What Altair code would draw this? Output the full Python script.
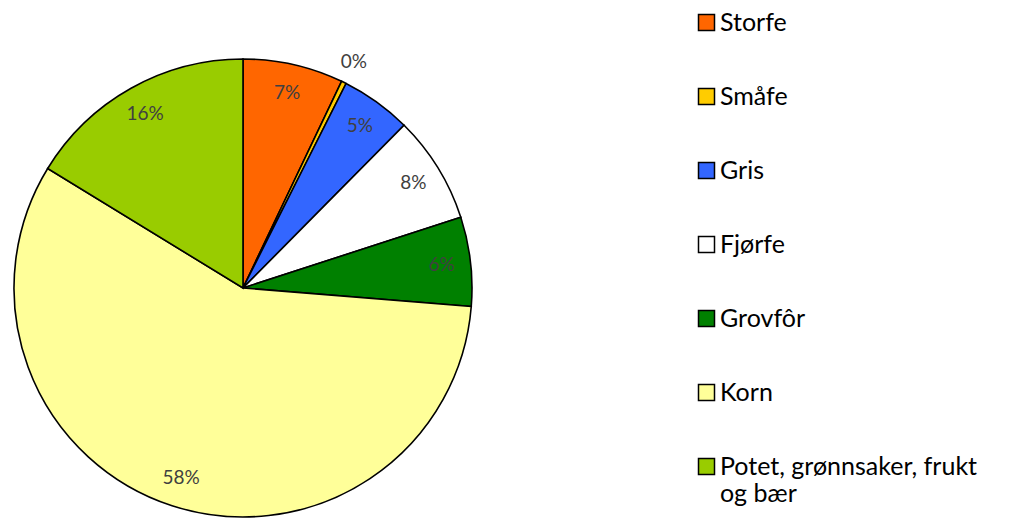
import altair as alt
import pandas as pd

categories = ["Storfe", "Småfe", "Gris", "Fjørfe", "Grovfôr", "Korn",
              "Potet, grønnsaker, frukt og bær"]
shares = [7.1, 0.35, 5.0, 7.6, 6.3, 57.6, 16.3]
colors = ["#FF6600", "#FFCC00", "#3366FF", "#FFFFFF", "#008000", "#FFFF99", "#99CC00"]

df = pd.DataFrame({
    "kategori": categories,
    "andel": shares,
    "rekkefolge": list(range(len(categories))),
})

FONT = "Lato"

base = alt.Chart(df).encode(
    theta=alt.Theta("andel:Q", stack=True),
    order=alt.Order("rekkefolge:Q"),
)

color = alt.Color(
    "kategori:N",
    sort=categories,
    scale=alt.Scale(domain=categories, range=colors),
    legend=alt.Legend(
        title=None,
        orient="none",
        legendX=680,
        legendY=-58,
        padding=0,
        symbolType="square",
        symbolSize=256,
        symbolStrokeColor="black",
        symbolStrokeWidth=1.5,
        labelFontSize=25,
        labelFont=FONT,
        labelColor="black",
        labelOffset=1,
        labelLimit=400,
        rowPadding=48,
        labelExpr="datum.label == 'Potet, grønnsaker, frukt og bær' ? ['Potet, grønnsaker, frukt', 'og bær'] : datum.label",
    ),
)

pie = base.mark_arc(radius=229, stroke="black", strokeWidth=1.6).encode(color=color)

inner = base.transform_calculate(
    tekst="datum.andel >= 1 ? format(datum.andel, '.0f') + '%' : ''",
).mark_text(radius=200, fontSize=19, font=FONT, color="#404040").encode(text="tekst:N")

outer = base.transform_calculate(
    tekst="datum.andel < 1 ? format(datum.andel, '.0f') + '%' : ''",
).mark_text(radius=252, fontSize=19, font=FONT, color="#404040").encode(text="tekst:N")

chart = alt.layer(pie, inner, outer).properties(
    width=458,
    height=440,
    padding={"left": 2, "top": 2, "right": 5, "bottom": 5},
).configure_view(stroke=None)

chart.save("out.html", embed_options={"renderer": "svg", "actions": False})
